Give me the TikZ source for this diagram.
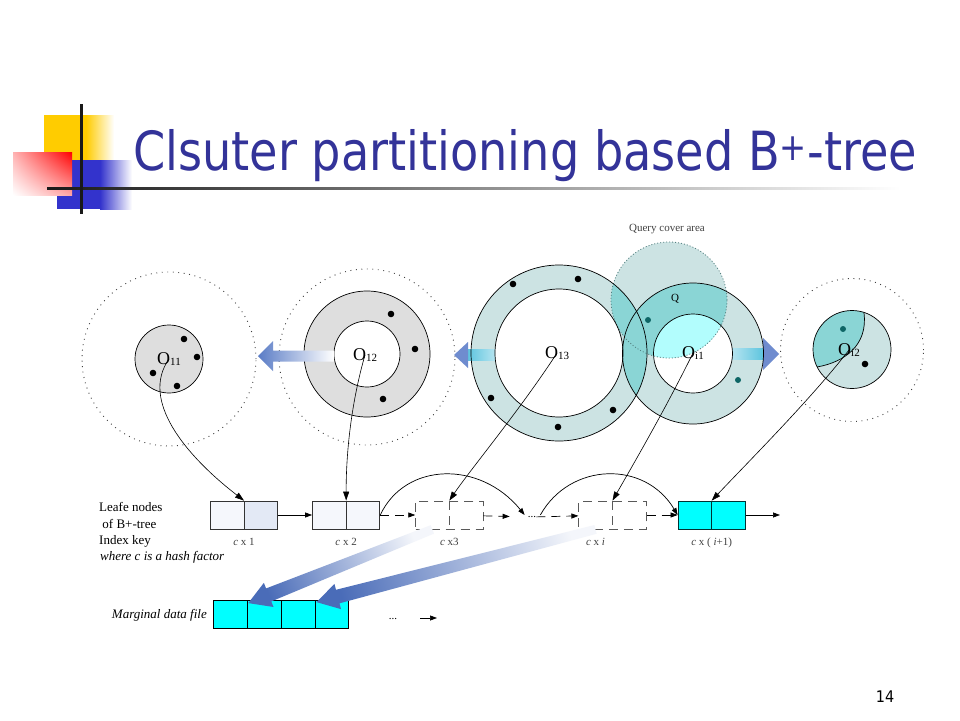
\documentclass[tikz,border=0pt]{standalone}
\usepackage{fontspec}
\setmainfont{Liberation Serif}
\newfontfamily\titlefont{DejaVu Sans Condensed}
\usetikzlibrary{positioning, arrows.meta, calc, shapes.multipart, shadings}

\definecolor{titleblue}{HTML}{333399}
\definecolor{deckyellow}{HTML}{FFCC00}
\definecolor{deckred}{HTML}{FF0000}
\definecolor{deckblue}{HTML}{3333CC}
\definecolor{ringgray}{HTML}{DEDEDE}
\definecolor{tealfill}{HTML}{CCE3E3}
\definecolor{tealdeep}{HTML}{8AD5D5}
\definecolor{cyanpale}{HTML}{B2FDFD}
\definecolor{tealdot}{HTML}{0E6666}
\definecolor{cellcyan}{HTML}{00FFFF}
\definecolor{leafpale}{HTML}{F5F7FC}
\definecolor{leafgray}{HTML}{E3E9F5}
\definecolor{pushblue}{HTML}{5A7CC6}
\definecolor{headblue}{HTML}{6F8CCF}
\definecolor{shaftcyan}{HTML}{5BC4DE}
\definecolor{fatblue}{HTML}{4A6CB8}

\newcommand{\clabel}[1]{{\fontsize{18}{18}\selectfont O}\raisebox{-1.5pt}{\fontsize{11}{11}\selectfont #1}}

\begin{document}
\begin{tikzpicture}[
  x=1pt, y=-1pt,
  font=\fontsize{13}{16.5}\selectfont,
  txt/.style={inner sep=0pt},
  keytxt/.style={
    inner sep=0pt,
    text height=7.5pt,
    text depth=2pt,
    font=\fontsize{11}{13}\selectfont,
    text=black!75
  },
  dotring/.style={draw=black!75, line width=0.9pt, dash pattern=on 0.9pt off 4.6pt},
  rim/.style={draw=black, line width=0.7pt},
  leafbox/.style={
    rectangle split,
    rectangle split horizontal,
    rectangle split parts=2,
    rectangle split empty part width=28.7pt,
    rectangle split empty part height=28pt,
    rectangle split empty part depth=0pt,
    inner sep=0pt,
    draw=black!80,
    line width=0.8pt
  },
  ghostbox/.style={leafbox, draw=black!65, dash pattern=on 9pt off 6pt},
  arrow/.style={-{Triangle[length=7pt,width=5pt]}, line width=0.7pt},
  ghostarrow/.style={arrow, dash pattern=on 9pt off 6pt},
  linkarrow/.style={-{Triangle[length=9pt,width=6pt]}, line width=0.6pt},
  fatshade/.style={top color=fatblue, bottom color=fatblue!6}
]

\useasboundingbox (0,0) rectangle (960,720);
\fill[white] (0,0) rectangle (960,720);

% Title corner
\fill[deckyellow] (44,115) rectangle (86,160);
\shade[left color=deckyellow, right color=white] (86,115) rectangle (114,160);
\fill[deckblue] (57,160) rectangle (100,209);
\shade[left color=deckblue, right color=white] (100,160) rectangle (132,209);
\shade[upper right=deckred, upper left=deckred!30, lower left=white, lower right=deckred!35] (13,152) rectangle (72,195);
\shade[left color=black!90, right color=white] (47,187) rectangle (900,189.5);
\fill[black!90] (80,104) rectangle (82.5,214);

% Title
\node[anchor=base west, inner sep=0pt, text=titleblue, font=\titlefont\fontsize{54}{60}\selectfont] (title) at (133,170) {\scalebox{0.951}[1]{Clsuter partitioning based B\textsuperscript{+}-tree}};
\node[font=\titlefont\fontsize{16}{16}\selectfont] (page) at (885,697) {14};

% Cluster centres
\coordinate (c11) at (169,359);
\coordinate (c12) at (367,354);
\coordinate (c13) at (559,353);
\coordinate (ci1) at (693,353.5);
\coordinate (ci2) at (852,349.5);
\coordinate (cq) at (669,300);

% Dotted reach of the outer clusters
\draw[dotring] (169,359) circle (87pt);
\draw[dotring] (367,357) circle (88pt);
\draw[dotring] (852,350) circle (71.5pt);

% O11 and O12
\filldraw[rim, fill=ringgray] (c11) circle (34pt);
\filldraw[rim, fill=ringgray, even odd rule] (c12) circle (63pt) (c12) circle (33pt);

% O13, Oi1 and the query area
\fill[tealfill, even odd rule] (c13) circle (88pt) (c13) circle (64pt);
\fill[tealfill, even odd rule] (ci1) circle (70.5pt) (ci1) circle (39.5pt);
\fill[tealfill] (cq) circle (58pt);
\begin{scope}
  \clip (c13) circle (88pt);
  \fill[tealdeep, even odd rule] (ci1) circle (70.5pt) (ci1) circle (39.5pt);
\end{scope}
\begin{scope}
  \clip (cq) circle (58pt);
  \fill[tealdeep, even odd rule] (c13) circle (88pt) (c13) circle (64pt);
  \fill[tealdeep, even odd rule] (ci1) circle (70.5pt) (ci1) circle (39.5pt);
  \fill[cyanpale] (ci1) circle (39.5pt);
\end{scope}
\draw[draw=teal!35!gray, line width=0.8pt, dash pattern=on 1pt off 2pt] (cq) circle (58pt);

% Push arrows
\shade[left color=pushblue, right color=white] (258,356) -- (273,341) -- (273,350.5) -- (334,350.5) -- (334,361.5) -- (273,361.5) -- (273,371) -- cycle;
\shade[left color=shaftcyan, right color=shaftcyan!45!white] (467,349) rectangle (495,360);
\fill[headblue] (454,355) -- (468,342) -- (468,368) -- cycle;
\shade[left color=shaftcyan!45!white, right color=shaftcyan] (732,348) rectangle (764,359);
\fill[headblue] (779,354) -- (763,338) -- (763,370) -- cycle;

\draw[rim] (c13) circle (88pt) (c13) circle (64pt);
\draw[rim] (ci1) circle (70.5pt) (ci1) circle (39.5pt);

% Oi2
\fill[tealfill] (ci2) circle (39pt);
\begin{scope}
  \clip (ci2) circle (39pt);
  \fill[tealdeep] (864,313) .. controls (868,345) and (845,362) .. (817,367) -- (805,372) -- (805,300) -- (866,300) -- cycle;
\end{scope}
\draw[rim] (864,313) .. controls (868,345) and (845,362) .. (817,367);
\draw[rim] (ci2) circle (39pt);

% Objects
\foreach \p in {(184,339),(197,357),(153,373),(177,386),(391,314),(415,349),(383,399),(513,284),(578,279),(491,398),(613,410),(558,427),(865,364)}
  \fill \p circle (3.3pt);
\foreach \p in {(648,320),(738,380),(843,329)}
  \fill[tealdot] \p circle (3pt);

% Labels
\node[txt] (o11) at (169,359) {\clabel{11}};
\node[txt] (o12) at (365,355) {\clabel{12}};
\node[txt] (o13) at (557,353) {\clabel{13}};
\node[txt] (oi1) at (693,353) {\clabel{i1}};
\node[txt] (oi2) at (849,350) {\clabel{i2}};
\node[txt, font=\fontsize{11}{13}\selectfont, text=black!75] (qlabel) at (667,229) {Query cover area};
\node[txt, font=\fontsize{11}{13}\selectfont] (q) at (675,299) {Q};

% Leaf nodes
\node[leafbox, rectangle split part fill={leafpale,leafgray}] (leaf1) at (244,515) {};
\node[leafbox, fill=leafpale, right=34pt of leaf1] (leaf2) {};
\node[ghostbox, right=35pt of leaf2] (leaf3) {};
\node[txt, font=\fontsize{11}{13}\selectfont] (ldots) at (532,517) {...};
\node[ghostbox] (leafi) at (612.5,515) {};
\node[leafbox, fill=cellcyan, draw=teal!40!black, right=31pt of leafi] (leafn) {};
\coordinate (tailend) at (780,515);

\node[keytxt, below=8pt of leaf1] (k1) {\textit{c} x 1};
\node[keytxt, below=8pt of leaf2] (k2) {\textit{c} x 2};
\node[keytxt, below=8pt of leaf3] (k3) {\textit{c} x3};
\node[keytxt, below=8pt of leafi, xshift=-17pt] (ki) {\textit{c} x \textit{i}};
\node[keytxt, below=8pt of leafn] (kn) {\textit{c} x ( \textit{i}+1)};

\node[txt, anchor=base west] (note1) at (99,511) {Leafe nodes};
\node[txt, anchor=base west] (note2) at (99,528) {\ of B+-tree};
\node[txt, anchor=base west] (note3) at (99,544) {Index key};
\node[txt, anchor=base west] (note4) at (100,560) {\textit{where c is a hash factor}};

% Marginal data file
\node[leafbox, rectangle split parts=4, rectangle split empty part height=27pt, fill=cellcyan, draw=black] (data) at (281,614.5) {};
\node[txt, anchor=base east] (mlabel) at (207,618) {\textit{Marginal data file}};
\node[txt, font=\fontsize{11}{13}\selectfont] (ddots) at (393,619) {...};
\coordinate (dstart) at (420,618);
\coordinate (dend) at (437,618);
\draw[arrow] (dstart) -- (dend);

% Leaf links
\draw[arrow] (leaf1) -- (leaf2);
\draw[ghostarrow] (leaf2) -- (leaf3);
\draw[ghostarrow, shorten >=18pt] (leaf3) -- (ldots);
\draw[ghostarrow] (ldots) -- (leafi);
\draw[ghostarrow] (leafi) -- (leafn);
\draw[arrow] (leafn) -- (tailend);
\draw[arrow] (leaf2.east) .. controls (405,462) and (480,460) .. ($(ldots.west)+(-3,-2)$);
\draw[arrow] ($(ldots.east)+(4,-2)$) .. controls (570,462) and (645,460) .. (leafn.west);

% Cluster to index key
\draw[linkarrow] (o11.center) .. controls (140,400) and (185,455) .. (leaf1.north);
\draw[linkarrow] (o12.center) .. controls (352,400) and (346,450) .. (leaf2.north);
\draw[linkarrow] (o13.center) .. controls (520,410) and (470,470) .. (leaf3.north);
\draw[linkarrow] (oi1.center) .. controls (665,410) and (630,470) .. (leafi.north);
\draw[linkarrow] (oi2.center) .. controls (810,400) and (750,460) .. (leafn.north);

% Index key to data file
\coordinate (fa1s) at ($(leaf3.south west)!0.5!(leaf3.south)$);
\coordinate (fa1e) at ($(data.north west)!0.26!(data.north east)+(0,3)$);
\coordinate (fa1h) at ($(fa1e)!22pt!(fa1s)$);
\shade[fatshade, shading angle=112] ($(fa1s)!4.5pt!90:(fa1e)$) -- ($(fa1h)!7pt!90:(fa1e)$) -- ($(fa1h)!13pt!90:(fa1e)$) -- (fa1e) -- ($(fa1h)!13pt!-90:(fa1e)$) -- ($(fa1h)!7pt!-90:(fa1e)$) -- ($(fa1s)!4.5pt!-90:(fa1e)$) -- cycle;
\coordinate (fa2s) at ($(leafi.south west)!0.5!(leafi.south)$);
\coordinate (fa2e) at ($(data.north west)!0.76!(data.north east)+(0,2)$);
\coordinate (fa2h) at ($(fa2e)!22pt!(fa2s)$);
\shade[fatshade, shading angle=105] ($(fa2s)!4.5pt!90:(fa2e)$) -- ($(fa2h)!7pt!90:(fa2e)$) -- ($(fa2h)!13pt!90:(fa2e)$) -- (fa2e) -- ($(fa2h)!13pt!-90:(fa2e)$) -- ($(fa2h)!7pt!-90:(fa2e)$) -- ($(fa2s)!4.5pt!-90:(fa2e)$) -- cycle;

\end{tikzpicture}
\end{document}
